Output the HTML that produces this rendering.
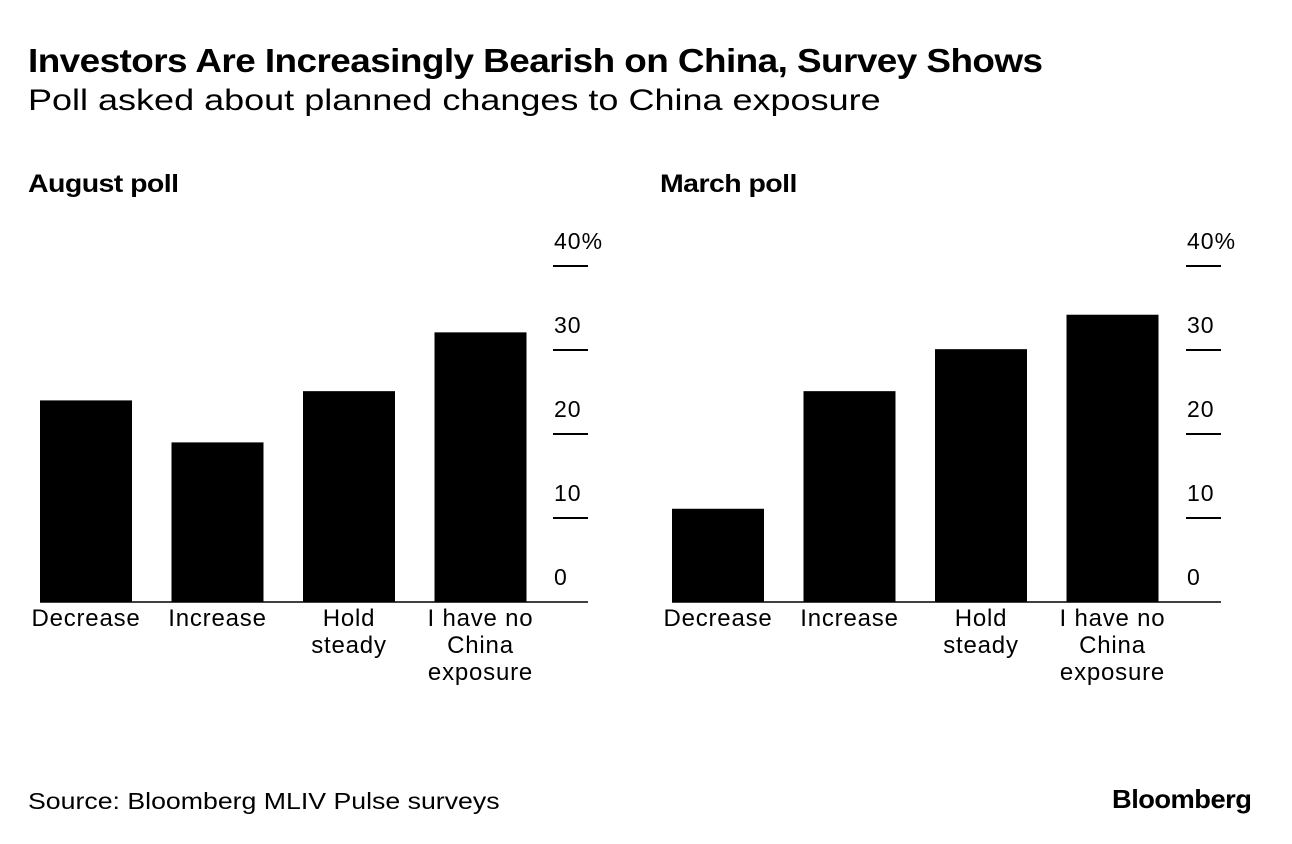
<!DOCTYPE html>
<html><head><meta charset="utf-8"><style>
body{margin:0;width:1292px;height:844px;background:#fff;font-family:"Liberation Sans",sans-serif;color:#000;position:relative;overflow:hidden}
.t{position:absolute;white-space:nowrap;transform-origin:left top}
</style></head><body>
<div class="t" style="left:28px;top:42px;font-size:33px;font-weight:bold;letter-spacing:-0.5px;transform:scaleX(1.118)">Investors Are Increasingly Bearish on China, Survey Shows</div>
<div class="t" style="left:28px;top:84px;font-size:30px;transform:scaleX(1.2)">Poll asked about planned changes to China exposure</div>
<div class="t" style="left:28px;top:170px;font-size:25px;font-weight:bold;letter-spacing:-0.5px;transform:scaleX(1.14)">August poll</div>
<div class="t" style="left:660px;top:170px;font-size:25px;font-weight:bold;letter-spacing:-0.5px;transform:scaleX(1.14)">March poll</div>
<div class="t" style="left:28px;top:788px;font-size:23px;transform:scaleX(1.16)">Source: Bloomberg MLIV Pulse surveys</div>
<div class="t" style="left:1112px;top:784px;font-size:26px;font-weight:bold;letter-spacing:-0.5px;transform:scaleX(1.05)">Bloomberg</div>
<svg id="c" width="1292" height="844" style="position:absolute;left:0;top:0"></svg>
<script>
const categories=["Decrease","Increase","Hold\nsteady","I have no\nChina\nexposure"];
const augustValues=[24.0,19.0,25.1,32.1];
const marchValues=[11.1,25.1,30.1,34.2];
const tickValues=[0,10,20,30,40];
const tickLabels=["0","10","20","30","40%"];
const NS="http://www.w3.org/2000/svg";
const svg=document.getElementById('c');
function y(v){return 602-v*8.4;}
function mk(tag,attrs){const e=document.createElementNS(NS,tag);for(const k in attrs)e.setAttribute(k,attrs[k]);svg.appendChild(e);return e;}
function panel(name,x0,vals,tickX){
  const bx=i=>x0+i*131.5;
  const bl=mk('line',{x1:x0,x2:tickX+35,y1:602,y2:602,stroke:'#000','stroke-width':1.5});
  
  
  tickValues.forEach((t,i)=>{
    if(t>0){const l=mk('line',{x1:tickX,x2:tickX+35,y1:y(t),y2:y(t),stroke:'#000','stroke-width':2});
    
    }
    const tx=mk('text',{x:tickX+1,y:y(t)-17,'font-size':23,'letter-spacing':1,'font-family':'Liberation Sans, sans-serif'});
    tx.textContent=tickLabels[i];
    
    
  });
  vals.forEach((v,i)=>{
    const r=mk('rect',{x:bx(i),y:y(v),width:92,height:602-y(v),fill:'#000'});
    
    
    const tx=mk('text',{x:bx(i)+46,y:626,'font-size':24,'letter-spacing':0.8,'text-anchor':'middle','font-family':'Liberation Sans, sans-serif'});
    
    
    categories[i].split('\n').forEach((s,j)=>{const ts=document.createElementNS(NS,'tspan');ts.setAttribute('x',bx(i)+46);ts.setAttribute('y',626+j*27);ts.textContent=s;tx.appendChild(ts);});
  });
}
panel('august',40,augustValues,553);
panel('march',672,marchValues,1186);
</script>
</body></html>
